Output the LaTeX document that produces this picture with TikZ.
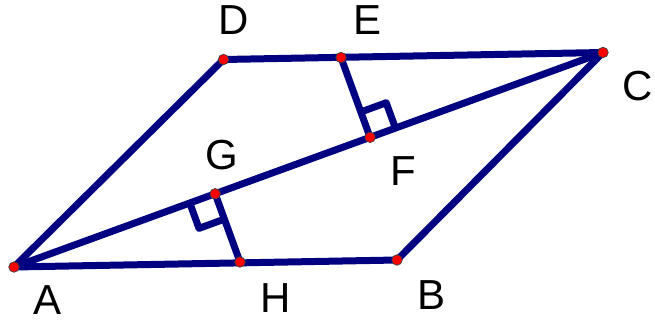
\documentclass[tikz,border=0pt]{standalone}
\usepackage{fontspec}
\setmainfont{Liberation Sans}
\usetikzlibrary{calc}
\definecolor{seg}{RGB}{0,0,128}
\definecolor{pt}{RGB}{255,0,0}
\tikzset{
  segline/.style={draw=seg, line width=7pt, line join=round, line cap=round},
  ptdot/.style={circle, fill=pt, draw=black!75, line width=0.7pt, inner sep=0pt, minimum size=10.5pt},
  lbl/.style={inner sep=0pt, anchor=center, font=\fontsize{42}{48}\selectfont}
}
\begin{document}
\begin{tikzpicture}[x=1pt,y=1pt]
\useasboundingbox (0,0) rectangle (655,322);
\coordinate (A) at (14,55);
\coordinate (B) at (397,62);
\coordinate (C) at (603,269.5);
\coordinate (D) at (223.5,262.5);
\coordinate (E) at (341,264.5);
\coordinate (H) at (240,60);
\coordinate (F) at ($(A)!(E)!(C)$);
\coordinate (G) at ($(A)!(H)!(C)$);
% right angle marks
\coordinate (g1) at ($(G)!27pt!(A)$);
\coordinate (g2) at ($(G)!27pt!(H)$);
\coordinate (g3) at ($(g1)+(g2)-(G)$);
\coordinate (f1) at ($(F)!27pt!(E)$);
\coordinate (f2) at ($(F)!27pt!(C)$);
\coordinate (f3) at ($(f1)+(f2)-(F)$);
\draw[segline] (A) -- (B) -- (C) -- (D) -- cycle;
\draw[segline] (A) -- (C);
\draw[segline] (E) -- (F);
\draw[segline] (H) -- (G);
\draw[segline, line cap=butt] (g1) -- (g3) -- (g2);
\draw[segline, line cap=butt] (f1) -- (f3) -- (f2);
\foreach \p in {A,B,C,D,E,F,G,H} \node[ptdot] (d\p) at (\p) {};
\node[lbl] (lA) at (48,22) {A};
\node[lbl] (lB) at (431,27) {B};
\node[lbl] (lC) at (638,236) {C};
\node[lbl] (lD) at (234,301.5) {D};
\node[lbl] (lE) at (368,302) {E};
\node[lbl] (lF) at (403,150.5) {F};
\node[lbl] (lG) at (222,167) {G};
\node[lbl] (lH) at (275.5,24) {H};
\end{tikzpicture}
\end{document}
